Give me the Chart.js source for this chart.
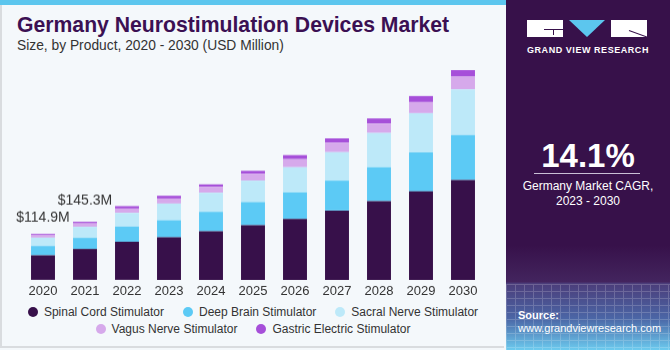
<!DOCTYPE html>
<html>
<head>
<meta charset="utf-8">
<script src="https://cdn.jsdelivr.net/npm/chart.js@4/dist/chart.umd.min.js"></script>
<style>
  html, body { margin: 0; padding: 0; }
  body { width: 670px; height: 350px; position: relative; overflow: hidden; background: #f4f8fb; font-family: "Liberation Sans", Arial, sans-serif; }
  #stripe { position: absolute; left: 0; top: 0; width: 506px; height: 5px; background: #5cc6ee; }
  #frame { position: absolute; left: 0; top: 5px; width: 504px; height: 343px; border-left: 2px solid #d9dcdf; border-bottom: 2px solid #d9dcdf; box-sizing: border-box; }
  #title { position: absolute; left: 17px; top: 13px; font-size: 21.2px; font-weight: bold; color: #3b1053; white-space: nowrap; }
  #subtitle { position: absolute; left: 17px; top: 38px; font-size: 13.8px; color: #333; white-space: nowrap; }
  #wrap { position: absolute; left: 0; top: 60px; width: 500px; height: 242.5px; }
  #legend { position: absolute; left: 0; top: 304px; width: 506px; display: flex; flex-wrap: wrap; justify-content: center; font-size: 12px; color: #333; line-height: 16.5px; }
  #legend span.item { display: inline-flex; align-items: center; margin: 0 9.5px; }
  #legend span.dot { width: 10px; height: 10px; border-radius: 50%; margin-right: 6px; }
  #panel { position: absolute; left: 506px; top: 0; width: 164px; height: 350px; background: linear-gradient(to bottom, #37114a 0%, #37114a 70%, #43245e 80.5%, #4b3d7a 81%, #4b66a6 91%, #6ccbef 100%); }
  #mesh { position: absolute; left: 0; top: 284px; width: 164px; height: 66px; opacity: 0.18;
          background-image: repeating-linear-gradient(to right, #fff 0, #fff 1px, transparent 1px, transparent 9px),
                            repeating-linear-gradient(to bottom, #fff 0, #fff 1px, transparent 1px, transparent 7px); }
  #logo { position: absolute; left: 21px; top: 20px; width: 120px; height: 17px; }
  #logo .b1 { position: absolute; left: 0; top: 0; width: 36px; height: 17px; background: #fff; }
  #logo .g1 { position: absolute; left: 17px; top: 9px; width: 19px; height: 1px; background: #37114a; }
  #logo .g2 { position: absolute; left: 26px; top: 9px; width: 1px; height: 6px; background: #37114a; }
  #logo .tri { position: absolute; left: 42px; top: 0; width: 0; height: 0; border-left: 18px solid transparent; border-right: 18px solid transparent; border-top: 17px solid #5cc6ee; }
  #logo .b3 { position: absolute; left: 84px; top: 0; width: 36px; height: 17px; background: #fff; overflow: hidden; }
  #logo .r1 { position: absolute; left: 18px; top: 10px; width: 22px; height: 1px; background: #37114a; transform: rotate(20deg); transform-origin: left center; }
  #gvr { position: absolute; left: 0; top: 45px; width: 164px; text-align: center; color: #fff; font-size: 9px; font-weight: bold; letter-spacing: 0.55px; }
  #cagr { position: absolute; left: 0; top: 137px; width: 164px; text-align: center; color: #fff; font-size: 33px; font-weight: bold; }
  #rule { position: absolute; left: 28px; top: 173px; width: 106px; height: 1px; background: #c9c0d6; }
  #cagrtxt { position: absolute; left: 0; top: 179px; width: 164px; text-align: center; color: #fff; font-size: 12px; line-height: 15px; }
  #src { position: absolute; left: 12px; top: 309px; color: #fff; font-size: 11px; line-height: 13px; }
</style>
</head>
<body>
<div id="stripe"></div>
<div id="frame"></div>
<div id="title">Germany Neurostimulation Devices Market</div>
<div id="subtitle">Size, by Product, 2020 - 2030 (USD Million)</div>
<div id="wrap"><canvas id="chart"></canvas></div>
<div id="legend"></div>
<div id="panel">
  <div id="mesh"></div>
  <div id="logo"><div class="b1"><div class="g1"></div><div class="g2"></div></div><div class="tri"></div><div class="b3"><div class="r1"></div></div></div>
  <div id="gvr">GRAND VIEW RESEARCH</div>
  <div id="cagr">14.1%</div>
  <div id="rule"></div>
  <div id="cagrtxt">Germany Market CAGR,<br>2023 - 2030</div>
  <div id="src"><b>Source:</b><br>www.grandviewresearch.com</div>
</div>
<script>
const years = ['2020', '2021', '2022', '2023', '2024', '2025', '2026', '2027', '2028', '2029', '2030'];

// USD million
const spinalCord = [61.3, 77.3, 95.3, 106.3, 121.5, 136.6, 152.5, 173.4, 197.1, 221.3, 250.0];
const deepBrain = [23.4, 27.7, 37.8, 42.8, 48.6, 58.0, 66.3, 74.8, 84.7, 97.5, 112.4];
const sacralNerve = [20.9, 27.7, 34.5, 41.8, 47.9, 53.7, 63.0, 71.3, 85.7, 98.3, 114.4];
const vagusNerve = [6.0, 8.6, 10.8, 12.6, 15.1, 16.9, 20.2, 23.7, 23.7, 27.7, 31.8];
const gastricElectric = [3.3, 4.0, 6.0, 6.8, 5.8, 7.6, 10.1, 10.8, 12.6, 15.1, 16.1];

const seriesNames = ['Spinal Cord Stimulator', 'Deep Brain Stimulator', 'Sacral Nerve Stimulator', 'Vagus Nerve Stimulator', 'Gastric Electric Stimulator'];
const seriesColors = ['#37104a', '#5ccaf5', '#bde9f9', '#d6a9eb', '#a64fd9'];

// totals shown above the first two bars
const totalLabels = ['$114.9M', '$145.3M'];

const allSeries = [spinalCord, deepBrain, sacralNerve, vagusNerve, gastricElectric];

const datasets = allSeries.map((vals, i) => ({
    label: seriesNames[i],
    data: vals,
    backgroundColor: seriesColors[i],
    borderWidth: 0,
    barPercentage: 0.57,
    categoryPercentage: 1.0
}));

// html legend
const legend = document.getElementById('legend');
seriesNames.forEach((name, i) => {
    const item = document.createElement('span');
    item.className = 'item';
    item.innerHTML = '<span class="dot" style="background:' + seriesColors[i] + '"></span>' + name;
    legend.appendChild(item);
});

const totalsPlugin = {
    id: 'totals',
    afterDatasetsDraw(chart) {
        const ctx = chart.ctx;
        const top = chart.getDatasetMeta(chart.data.datasets.length - 1);
        const lift = [16, 21];
        ctx.save();
        ctx.font = '14px "Liberation Sans", Arial, sans-serif';
        ctx.fillStyle = '#333';
        ctx.textAlign = 'center';
        ctx.textBaseline = 'middle';
        totalLabels.forEach((txt, i) => {
            const bar = top.data[i];
            ctx.fillText(txt, bar.x, bar.y - lift[i]);
        });
        ctx.restore();
    }
};

new Chart(document.getElementById('chart').getContext('2d'), {
    type: 'bar',
    data: { labels: years, datasets: datasets },
    options: {
        responsive: true,
        maintainAspectRatio: false,
        animation: false,
        layout: { padding: { left: 22, right: 16, top: 0, bottom: 0 } },
        scales: {
            x: {
                stacked: true,
                grid: { display: false, drawTicks: false },
                border: { display: false },
                ticks: { color: '#333', font: { size: 13, family: '"Liberation Sans", Arial, sans-serif' }, padding: 4 }
            },
            y: {
                stacked: true,
                display: false,
                min: 0,
                max: 550
            }
        },
        plugins: {
            legend: { display: false },
            tooltip: { enabled: false }
        }
    },
    plugins: [totalsPlugin]
});
</script>
</body>
</html>
